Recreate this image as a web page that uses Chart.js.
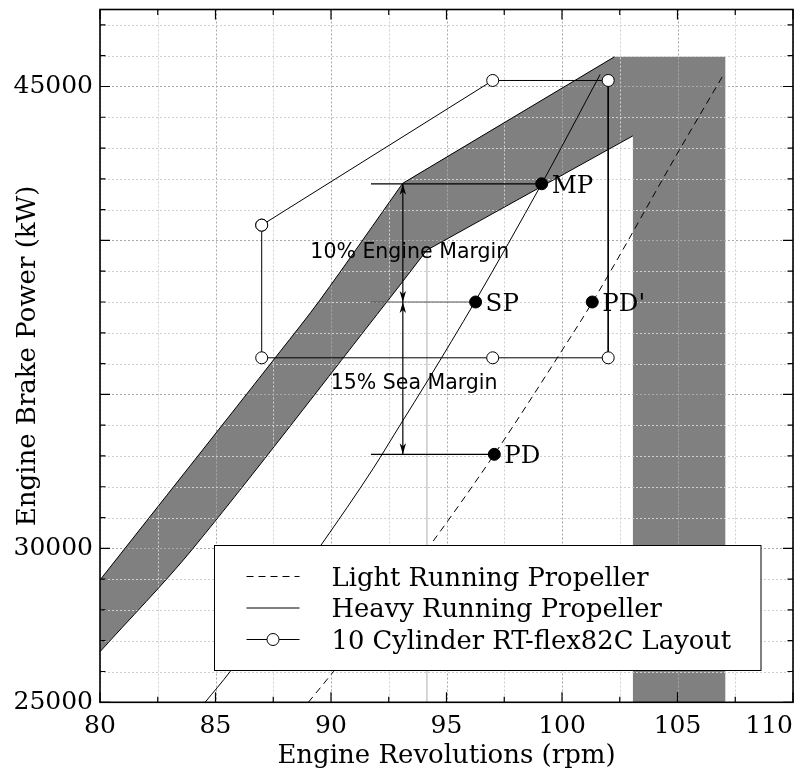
<!DOCTYPE html>
<html>
<head>
<meta charset="utf-8">
<script src="https://cdn.jsdelivr.net/npm/chart.js@4/dist/chart.umd.min.js"></script>
<style>
  html, body { margin: 0; padding: 0; background: #fff; }
  #wrap { width: 807px; height: 776px; }
</style>
</head>
<body>
<div id="wrap"><canvas id="chart" width="807" height="776"></canvas></div>
<script>
const rpmMin = 80, rpmMax = 110;
const powerMin = 25000, powerMax = 47500;
const xTickLabels = [80, 85, 90, 95, 100, 105, 110];
const yTickLabels = [25000, 30000, 45000];

// propeller curves
const heavyRpm = [84.55, 85.63, 89.57, 91.83, 92.99, 94.2, 96.23, 99.13, 99.91, 101.65];
const heavyPower = [25000, 25994, 30108, 32598, 34004, 35465, 38008, 41852, 42933, 45391];
const lightRpm = [89.02, 90.10, 94.29, 97.07, 100.01, 101.31, 105.16, 106.98];
const lightPower = [25000, 25994, 30100, 33052, 36439, 37988, 43040, 45367];

// engine layout field
const layoutRpm = [87, 97, 102, 102, 97, 87, 87];
const layoutPower = [40497, 45195, 45195, 36188, 36188, 36188, 40497];

// grey band: curved part of each edge, then the straight part up to the block
const bandUpperRpm = [80, 87.79, 89.52, 93.10];
const bandUpperPower = [28971, 36384, 38062, 41852];
const bandLowerRpm = [80, 83.97, 92.48, 94.15];
const bandLowerPower = [26643, 29945, 38062, 39685];
const bandTopRpm = 102.27, bandTopPower = 45963;
const blockLeft = 103.07, blockRight = 107.07, blockInnerPower = 43397;

// operating points
const pointNames = ['MP', 'SP', "PD'", 'PD'];
const pointRpm = [99.12, 96.26, 101.31, 97.07];
const pointPower = [41840, 38000, 38000, 33053];

// margin guides
const guideStartRpm = 91.73;
const guideNames = ['MP', 'SP', 'PD'];
const arrowRpm = 93.11;
const marginLabels = ['10% Engine Margin', '15% Sea Margin'];
const marginLabelRpm = [93.41, 93.60];
const marginLabelPower = [39417, 35163];

const bandTension = 0.3;
const toXY = (xs, ys) => xs.map((x, i) => ({ x: x, y: ys[i] }));

const upperCurve = toXY(bandUpperRpm, bandUpperPower);
const lowerCurve = toXY(bandLowerRpm, bandLowerPower);
const upperEnd = upperCurve[upperCurve.length - 1];
const lowerEnd = lowerCurve[lowerCurve.length - 1];
const bandTop = { x: bandTopRpm, y: bandTopPower };
const blockInner = { x: blockLeft, y: blockInnerPower };

// corner points are listed twice so the spline keeps them sharp
const twice = p => [p, p];
const bandShape = [
  ...upperCurve.slice(0, -1),
  ...twice(upperEnd),
  ...twice(bandTop),
  ...twice({ x: blockRight, y: bandTopPower }),
  ...twice({ x: blockRight, y: powerMin }),
  ...twice({ x: blockLeft, y: powerMin }),
  ...twice(blockInner),
  ...twice(lowerEnd),
  ...lowerCurve.slice(0, -1).reverse()
];

const serif = '"DejaVu Serif", serif';
const sans = '"DejaVu Sans", sans-serif';

function edge(points, tension) {
  return {
    label: 'edge',
    data: points,
    borderColor: '#000',
    borderWidth: 1,
    pointRadius: 0,
    tension: tension,
    order: 7
  };
}
const edgeSets = [
  edge(upperCurve, bandTension),
  edge([upperEnd, bandTop], 0),
  edge(lowerCurve, bandTension),
  edge([lowerEnd, blockInner], 0)
];

const guideSets = guideNames.map(name => {
  const i = pointNames.indexOf(name);
  return {
    label: 'guide',
    data: [{ x: guideStartRpm, y: pointPower[i] }, { x: pointRpm[i], y: pointPower[i] }],
    borderColor: name === 'SP' ? '#555' : '#000',
    borderWidth: 1.2,
    pointRadius: 0,
    order: 3
  };
});

function arrowHead(ctx, x, tip, dir) {
  // dir -1 points up, +1 points down
  const len = 11, half = 3.2, notch = 3;
  ctx.beginPath();
  ctx.moveTo(x, tip);
  ctx.lineTo(x - half, tip - dir * len);
  ctx.lineTo(x, tip - dir * (len - notch));
  ctx.lineTo(x + half, tip - dir * len);
  ctx.closePath();
  ctx.fill();
}

const decor = {
  id: 'decor',
  afterDatasetDraw(chart, args) {
    if (args.index !== 0) return;
    // grid goes on top of the grey band
    const { ctx, chartArea: a, scales: { x, y } } = chart;
    ctx.save();
    ctx.lineWidth = 1;
    ctx.setLineDash([2, 2]);
    for (let v = rpmMin; v <= rpmMax; v += 2.5) {
      const px = Math.round(x.getPixelForValue(v)) + 0.5;
      ctx.strokeStyle = v % 5 === 0 ? '#a8a8a8' : '#d0d0d0';
      ctx.beginPath(); ctx.moveTo(px, a.top); ctx.lineTo(px, a.bottom); ctx.stroke();
    }
    for (let v = powerMin; v <= powerMax; v += 1000) {
      const py = Math.round(y.getPixelForValue(v)) + 0.5;
      ctx.strokeStyle = v % 5000 === 0 ? '#a8a8a8' : '#d0d0d0';
      ctx.beginPath(); ctx.moveTo(a.left, py); ctx.lineTo(a.right, py); ctx.stroke();
    }
    ctx.restore();
  },
  afterDatasetsDraw(chart) {
    const { ctx, scales: { x, y } } = chart;
    ctx.save();
    // margin arrows
    const ax = x.getPixelForValue(arrowRpm);
    const yMP = y.getPixelForValue(pointPower[0]);
    const ySP = y.getPixelForValue(pointPower[1]);
    const yPD = y.getPixelForValue(pointPower[3]);
    ctx.strokeStyle = '#000';
    ctx.fillStyle = '#000';
    ctx.lineWidth = 1.2;
    ctx.beginPath(); ctx.moveTo(ax, yMP); ctx.lineTo(ax, yPD); ctx.stroke();
    arrowHead(ctx, ax, yMP, -1);
    arrowHead(ctx, ax, ySP, 1);
    arrowHead(ctx, ax, ySP, -1);
    arrowHead(ctx, ax, yPD, 1);

    // margin texts
    ctx.font = '20.5px ' + sans;
    ctx.textAlign = 'center';
    ctx.textBaseline = 'alphabetic';
    marginLabels.forEach((t, i) => {
      ctx.fillText(t, x.getPixelForValue(marginLabelRpm[i]), y.getPixelForValue(marginLabelPower[i]));
    });

    // point names
    ctx.font = '24.5px ' + serif;
    ctx.textAlign = 'left';
    pointNames.forEach((t, i) => {
      ctx.fillText(t, x.getPixelForValue(pointRpm[i]) + 10, y.getPixelForValue(pointPower[i]) + 9);
    });

    // legend box
    const box = { left: 214.5, top: 545.5, right: 761, bottom: 670.5 };
    ctx.fillStyle = '#fff';
    ctx.fillRect(box.left, box.top, box.right - box.left, box.bottom - box.top);
    ctx.lineWidth = 1;
    ctx.strokeStyle = '#000';
    ctx.strokeRect(box.left, box.top, box.right - box.left, box.bottom - box.top);
    const legendSets = ['Light Running Propeller', 'Heavy Running Propeller', '10 Cylinder RT-flex82C Layout']
      .map(lbl => chart.data.datasets.find(d => d.label === lbl));
    legendSets.forEach((ds, i) => {
      const ry = 576.5 + i * 31.5;
      ctx.save();
      ctx.strokeStyle = ds.borderColor;
      ctx.lineWidth = ds.borderWidth;
      ctx.setLineDash(ds.borderDash || []);
      ctx.beginPath(); ctx.moveTo(246.5, ry); ctx.lineTo(299.5, ry); ctx.stroke();
      ctx.restore();
      if (ds.pointRadius > 0) {
        ctx.beginPath();
        ctx.arc(273, ry, ds.pointRadius, 0, Math.PI * 2);
        ctx.fillStyle = '#fff'; ctx.fill();
        ctx.lineWidth = 1; ctx.strokeStyle = '#000'; ctx.stroke();
      }
      ctx.fillStyle = '#000';
      ctx.font = '25.8px ' + serif;
      ctx.textAlign = 'left';
      ctx.fillText(ds.label, 331.5, ry + 9);
    });
    ctx.restore();
  },
  afterDraw(chart) {
    const { ctx, chartArea: a, scales: { x, y } } = chart;
    ctx.save();
    ctx.strokeStyle = '#000';
    ctx.lineWidth = 1.2;
    for (let v = rpmMin; v <= rpmMax; v += 2.5) {
      const px = x.getPixelForValue(v);
      const len = v % 5 === 0 ? 10 : 5.5;
      ctx.beginPath();
      ctx.moveTo(px, a.bottom); ctx.lineTo(px, a.bottom - len);
      ctx.moveTo(px, a.top); ctx.lineTo(px, a.top + len);
      ctx.stroke();
    }
    for (let v = powerMin; v <= powerMax; v += 1000) {
      const py = y.getPixelForValue(v);
      const len = v % 5000 === 0 ? 10 : 5.5;
      ctx.beginPath();
      ctx.moveTo(a.left, py); ctx.lineTo(a.left + len, py);
      ctx.moveTo(a.right, py); ctx.lineTo(a.right - len, py);
      ctx.stroke();
    }
    ctx.lineWidth = 1.6;
    ctx.strokeRect(a.left, a.top, a.right - a.left, a.bottom - a.top);

    // x tick labels
    ctx.fillStyle = '#000';
    ctx.font = '25px ' + serif;
    ctx.textBaseline = 'alphabetic';
    xTickLabels.forEach((v, i) => {
      const last = i === xTickLabels.length - 1;
      ctx.textAlign = last ? 'right' : 'center';
      ctx.fillText(String(v), last ? a.right : x.getPixelForValue(v), a.bottom + 30.5);
    });
    ctx.restore();
  }
};

new Chart(document.getElementById('chart'), {
  type: 'line',
  data: {
    datasets: [
      {
        label: 'band',
        data: bandShape,
        fill: 'shape',
        tension: bandTension,
        backgroundColor: '#808080',
        borderColor: 'rgba(0,0,0,0)',
        borderWidth: 0,
        pointRadius: 0,
        order: 9
      },
      {
        label: 'band kink',
        data: [lowerEnd, { x: lowerEnd.x, y: powerMin }],
        borderColor: '#cfcfcf',
        borderWidth: 1,
        pointRadius: 0,
        order: 8
      },
      ...edgeSets,
      {
        label: 'Light Running Propeller',
        data: toXY(lightRpm, lightPower),
        borderColor: '#000',
        borderWidth: 1,
        borderDash: [7, 5],
        cubicInterpolationMode: 'monotone',
        pointRadius: 0,
        order: 5
      },
      {
        label: 'Heavy Running Propeller',
        data: toXY(heavyRpm, heavyPower),
        borderColor: '#000',
        borderWidth: 1,
        cubicInterpolationMode: 'monotone',
        pointRadius: 0,
        order: 5
      },
      {
        label: '10 Cylinder RT-flex82C Layout',
        data: toXY(layoutRpm, layoutPower),
        borderColor: '#000',
        borderWidth: 1,
        pointRadius: 6,
        pointBackgroundColor: '#fff',
        pointBorderColor: '#000',
        pointBorderWidth: 1,
        order: 4
      },
      ...guideSets,
      {
        label: 'points',
        data: toXY(pointRpm, pointPower),
        showLine: false,
        pointRadius: 6,
        pointBackgroundColor: '#000',
        pointBorderColor: '#000',
        order: 1
      }
    ]
  },
  options: {
    responsive: false,
    animation: false,
    devicePixelRatio: 1,
    layout: { padding: { left: 0, right: 14, top: 9.5, bottom: 0 } },
    plugins: { legend: { display: false }, tooltip: { enabled: false } },
    scales: {
      x: {
        type: 'linear',
        min: rpmMin,
        max: rpmMax,
        grid: { display: false, drawTicks: false },
        border: { display: false },
        ticks: { display: false },
        title: {
          display: true,
          text: 'Engine Revolutions (rpm)',
          color: '#000',
          font: { family: serif, size: 26 },
          padding: { top: 0, bottom: 4.2 }
        },
        afterFit(s) { s.height = 73.7; s.paddingLeft = 0; s.paddingRight = 0; }
      },
      y: {
        type: 'linear',
        min: powerMin,
        max: powerMax,
        grid: { display: false, drawTicks: false },
        border: { display: false },
        afterBuildTicks(s) { s.ticks = yTickLabels.map(v => ({ value: v })); },
        ticks: {
          autoSkip: false,
          padding: 7,
          color: '#000',
          font: { family: serif, size: 25 },
          callback: v => String(v)
        },
        title: {
          display: true,
          text: 'Engine Brake Power (kW)',
          color: '#000',
          font: { family: serif, size: 26 },
          padding: { top: 12.5, bottom: 0 }
        },
        afterFit(s) { s.width = 100; s.paddingTop = 0; s.paddingBottom = 0; }
      }
    }
  },
  plugins: [decor]
});
</script>
</body>
</html>
